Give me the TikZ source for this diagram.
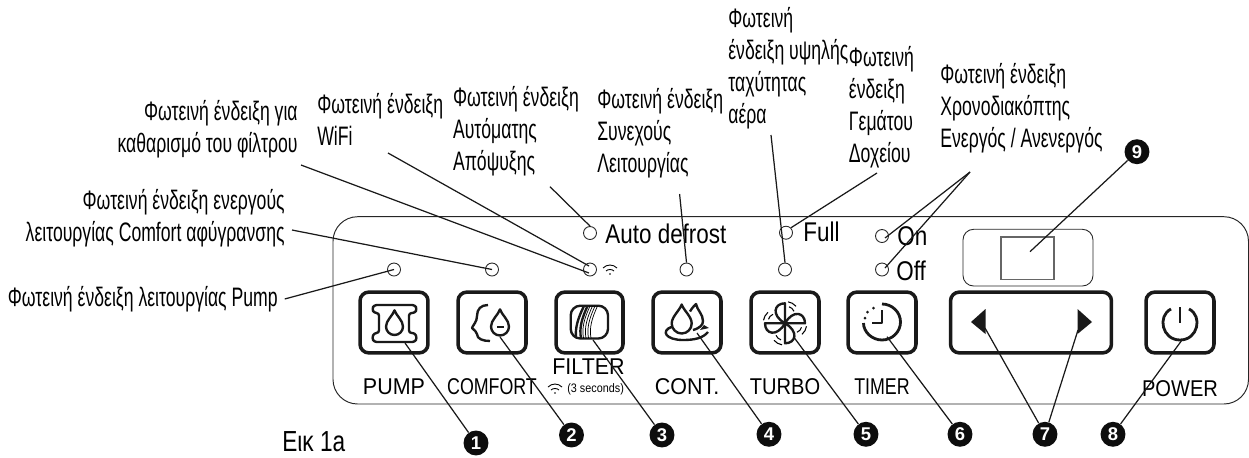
\documentclass[tikz,border=0pt]{standalone}
\usepackage{fontspec}
\setmainfont{Liberation Sans}
\newfontfamily\notefont[FakeStretch=0.66]{Liberation Sans}
\newfontfamily\panelfont[FakeStretch=0.83]{Liberation Sans}
\newfontfamily\keyfont[FakeStretch=0.88]{Liberation Sans}
\newfontfamily\keywidefont[FakeStretch=0.94]{Liberation Sans}
\newfontfamily\keytightfont[FakeStretch=0.78]{Liberation Sans}
\usetikzlibrary{arrows.meta, positioning, shapes.geometric}

\tikzset{
    note/.style={inner sep=0pt, align=left, anchor=west, font=\notefont\fontsize{15.2pt}{18.2pt}\selectfont},
    noteright/.style={note, align=right, anchor=east},
    led/.style={circle, draw=black!85, line width=0.5pt, minimum size=7.4pt, inner sep=0pt},
    keybox/.style={draw=black!90, line width=2pt, rounded corners=5pt, minimum height=34.6pt, inner sep=0pt},
    badge/.style={circle, fill=black!95, text=white, minimum size=14.2pt, inner sep=0pt, font=\bfseries\fontsize{10.5pt}{11pt}\selectfont},
    panellabel/.style={inner sep=0pt, font=\panelfont\fontsize{15.4pt}{16pt}\selectfont},
    keylabel/.style={inner sep=0pt, font=\keywidefont\fontsize{13pt}{14pt}\selectfont},
    keylabeltight/.style={inner sep=0pt, font=\keytightfont\fontsize{13pt}{14pt}\selectfont},
    keylabelmid/.style={inner sep=0pt, font=\keyfont\fontsize{13pt}{14pt}\selectfont},
    leader/.style={line width=0.7pt, black!90},
    icon/.style={line width=1.35pt, black!90, line join=round},
    wifimark/.pic={
        \draw[line width=0.5pt] (-7,-1) .. controls (-3,-5) and (3,-5) .. (7,-1);
        \draw[line width=0.5pt] (-4,2) .. controls (-2,0) and (2,0) .. (4,2);
        \fill (0,5) circle (0.9);
    },
    droplet/.pic={
        \draw[icon] (0,-1.9) .. controls (0.2,-1.3) and (1,-0.7) .. (1,0)
            .. controls (1,0.55) and (0.55,1) .. (0,1)
            .. controls (-0.55,1) and (-1,0.55) .. (-1,0)
            .. controls (-1,-0.7) and (-0.2,-1.3) .. (0,-1.9) -- cycle;
    },
}

\begin{document}
\begin{tikzpicture}[x=0.02cm, y=-0.02cm]
    \useasboundingbox (0,0) rectangle (1249,457);

    % panel and display
    \draw[black!85, line width=0.55pt, rounded corners=14pt] (333,216.7) rectangle (1248.5,404);
    \draw[black!85, line width=0.5pt, rounded corners=6pt] (963,229.3) rectangle (1093,286);
    \draw[black!60, line width=0.8pt] (1001,237) rectangle (1054,279.3);

    % indicator lamps
    \foreach \nm/\xx/\yy in {pump/394/269.5, comfort/492/269.5, filter/590/269.5, cont/686.5/269.5,
        turbo/785/269.5, off/882/269.5, on/882/236, full/786/232.7, auto/590/233}
        \node[led] (led\nm) at (\xx,\yy) {};

    % keys
    \foreach \nm/\xa/\xb in {pump/360/428, comfort/458/526, filter/556/623, cont/653/721,
        turbo/751/819, timer/848/916, arrows/950.5/1111.5, power/1146/1214}
        \node[keybox, minimum width={(\xb-\xa)*0.569pt}] (key\nm) at ({(\xa+\xb)/2},322.5) {};

    % pump icon
    \draw[icon, rounded corners=1.5pt] (379,313) -- (374,313) -- (372,309) -- (374,305) -- (415,305) -- (417,309) -- (415,313) -- (409,313)
        -- (409,333) -- (415,333) -- (417,338) -- (415,342) -- (374,342) -- (372,338) -- (374,333) -- (379,333) -- cycle;
    \pic[scale=8.5] at (394.5,326.5) {droplet};

    % comfort icon
    \draw[icon] (488,305) .. controls (481,305) and (477,309) .. (477,316) .. controls (477,322) and (473,325) .. (472,328)
        .. controls (474,331) and (477,331) .. (477,334) .. controls (477,339) and (483,341) .. (490,341);
    \pic[scale=9] at (500,326.5) {droplet};
    \draw[icon] (497,327) -- (504,327);

    % filter icon
    \draw[icon, rounded corners=5.5pt] (570.7,305.7) rectangle (608,338.5);
    \draw[icon] (584,306) .. controls (578,318) and (575,328) .. (576,337.5);
    \draw[icon] (587.5,306) .. controls (582,318) and (579,328) .. (581,338);
    \foreach \dx in {2.5,5,7.5,10}
        \draw[line width=0.4pt] (587.5+\dx,306) .. controls (582+\dx,318) and (579+\dx,328) .. (581+\dx,338);

    % cont icon
    \draw[icon] (690,311.5) .. controls (692,308) and (694,306) .. (696,304) .. controls (697,310) and (703,314) .. (703,321) .. controls (703,325) and (700,328) .. (693,330);
    \pic[scale=10] at (681.7,323.5) {droplet};
    \draw[icon] (672,326.7) .. controls (660,331) and (666,340) .. (683,340) .. controls (695,340) and (703,338) .. (708,332);
    \fill[black!90] (700,330) -- (709,328) -- (704,325) -- cycle;

    % turbo icon
    \foreach \ang in {0,90,180,270} {
        \begin{scope}[shift={(785,323.3)}, rotate=\ang]
            \draw[icon] (0,0) -- (0,-20) .. controls (-11,-20) and (-14,-8) .. (0,0);
            \draw[line width=0.6pt] (3,-21.5) .. controls (6,-21) and (9,-19.5) .. (11,-17);
            \draw[line width=0.6pt] (4,-16.5) .. controls (6,-16) and (8,-14.5) .. (9,-12);
        \end{scope}
    }

    % timer icon
    \draw[icon, line width=1.6pt] (882,304) .. controls (892,304) and (900.5,312) .. (900.5,322)
        .. controls (900.5,332) and (892,340) .. (882,340) .. controls (872,340) and (863.5,332) .. (863.5,323);
    \draw[icon, line width=1.5pt] (882,310) -- (882,323) -- (872,323);
    \fill[black!90] (865,318) circle (1.5) (867.5,312) circle (1.5) (873.5,308) circle (1.5);

    % arrow marks
    \fill[black!90] (971,322) -- (985.5,309) -- (985.5,334) -- cycle;
    \fill[black!90] (1092,322) -- (1077.5,309) -- (1077.5,334) -- cycle;

    % power icon
    \draw[icon, line width=1.6pt] (1171,309) .. controls (1157,316) and (1162,340) .. (1180,340)
        .. controls (1198,340) and (1203,316) .. (1189,309);
    \draw[icon, line width=1.6pt] (1180,307) -- (1180,323);

    % wifi marks
    \pic[scale=1] at (610,269) {wifimark};
    \pic[scale=1] at (555,388) {wifimark};

    % panel labels
    \node[panellabel, anchor=west] (lblauto) at (605,234) {Auto defrost};
    \node[panellabel, anchor=west] (lblfull) at (803,232) {Full};
    \node[panellabel, anchor=west] (lblon) at (897,236) {On};
    \node[panellabel, anchor=west] (lbloff) at (896,271) {Off};
    \node[keylabel] (lblpump) at (394,387) {PUMP};
    \node[keylabeltight] (lblcomfort) at (492,387) {COMFORT};
    \node[keylabel] (lblfilter) at (588.5,367) {FILTER};
    \node[inner sep=0pt, anchor=west, font=\keyfont\fontsize{7pt}{8pt}\selectfont] (lblsec) at (567,389) {(3 seconds)};
    \node[keylabel] (lblcont) at (687,387) {CONT.};
    \node[keylabelmid] (lblturbo) at (785,387) {TURBO};
    \node[keylabeltight] (lbltimer) at (882,387) {TIMER};
    \node[keylabelmid] (lblpower) at (1180,389) {POWER};
    \node[inner sep=0pt, anchor=base west, font=\keytightfont\fontsize{16.5pt}{18pt}\selectfont] (lblfig) at (282,451) {Εικ 1a};

    % callout texts
    \node[noteright] (txtpump) at (278,299) {Φωτεινή ένδειξη λειτουργίας Pump};
    \node[noteright] (txtcomfort) at (285,218) {Φωτεινή ένδειξη ενεργούς\\λειτουργίας Comfort αφύγρανσης};
    \node[noteright] (txtfilter) at (298,129) {Φωτεινή ένδειξη για\\καθαρισμό του φίλτρου};
    \node[note] (txtwifi) at (317,119) {Φωτεινή ένδειξη\\WiFi};
    \node[note] (txtauto) at (452.7,131) {Φωτεινή ένδειξη\\Αυτόματης\\Απόψυξης};
    \node[note] (txtcont) at (597,133) {Φωτεινή ένδειξη\\Συνεχούς\\Λειτουργίας};
    \node[note] (txtturbo) at (728,68) {Φωτεινή\\ένδειξη υψηλής\\ταχύτητας\\αέρα};
    \node[note] (txtfull) at (848.6,107.5) {Φωτεινή\\ένδειξη\\Γεμάτου\\Δοχείου};
    \node[note] (txttimer) at (940,108.5) {Φωτεινή ένδειξη\\Χρονοδιακόπτης\\Ενεργός / Ανενεργός};

    % number badges
    \foreach \nm/\xx/\yy in {1/476/443, 2/571.5/435, 3/662/435, 4/769/434.3, 5/866/434.3,
        6/960/434.3, 7/1045/434.3, 8/1113/434.3, 9/1137/151.7}
        \node[badge] (badge\nm) at (\xx,\yy) {\nm};

    % free ends of the leaders
    \coordinate (startpump) at (284.7,299);
    \coordinate (startcomfort) at (292,230);
    \coordinate (startfilter) at (301,165);
    \coordinate (startwifi) at (388,153);
    \coordinate (startauto) at (550,186.7);
    \coordinate (startcont) at (679.6,194);
    \coordinate (startturbo) at (771,135);
    \coordinate (startfull) at (877,173);
    \coordinate (starttimer) at (970,172);
    \coordinate (endfilter) at (589,273);
    \coordinate (endwifi) at (589,266);
    \coordinate (endon) at (885,238);
    \coordinate (endoff) at (885,268);
    \coordinate (tippump) at (405,343);
    \coordinate (tipcomfort) at (500,337);
    \coordinate (tipfilter) at (593,340);
    \coordinate (tipcont) at (697,333);
    \coordinate (tipturbo) at (793.5,336.7);
    \coordinate (tiptimer) at (887,336.7);
    \coordinate (tipleft) at (985,328);
    \coordinate (tipright) at (1078,330);
    \coordinate (tippower) at (1182,340);
    \coordinate (tipdisplay) at (1030,251.7);

    % leaders
    \draw[leader] (startpump) -- (ledpump.center);
    \draw[leader] (startcomfort) -- (ledcomfort.center);
    \draw[leader] (startfilter) -- (endfilter);
    \draw[leader] (startwifi) -- (endwifi);
    \draw[leader] (startauto) -- (ledauto.north);
    \draw[leader] (startcont) -- (ledcont.north);
    \draw[leader] (startturbo) -- (ledturbo.north);
    \draw[leader] (startfull) -- (ledfull.north east);
    \draw[leader] (starttimer) -- (endon);
    \draw[leader] (starttimer) -- (endoff);
    \draw[leader] (tippump) -- (badge1);
    \draw[leader] (tipcomfort) -- (badge2);
    \draw[leader] (tipfilter) -- (badge3);
    \draw[leader] (tipcont) -- (badge4);
    \draw[leader] (tipturbo) -- (badge5);
    \draw[leader] (tiptimer) -- (badge6);
    \draw[leader] (tipleft) -- (badge7);
    \draw[leader] (tipright) -- (badge7);
    \draw[leader] (tippower) -- (badge8);
    \draw[leader] (tipdisplay) -- (badge9);
\end{tikzpicture}
\end{document}
